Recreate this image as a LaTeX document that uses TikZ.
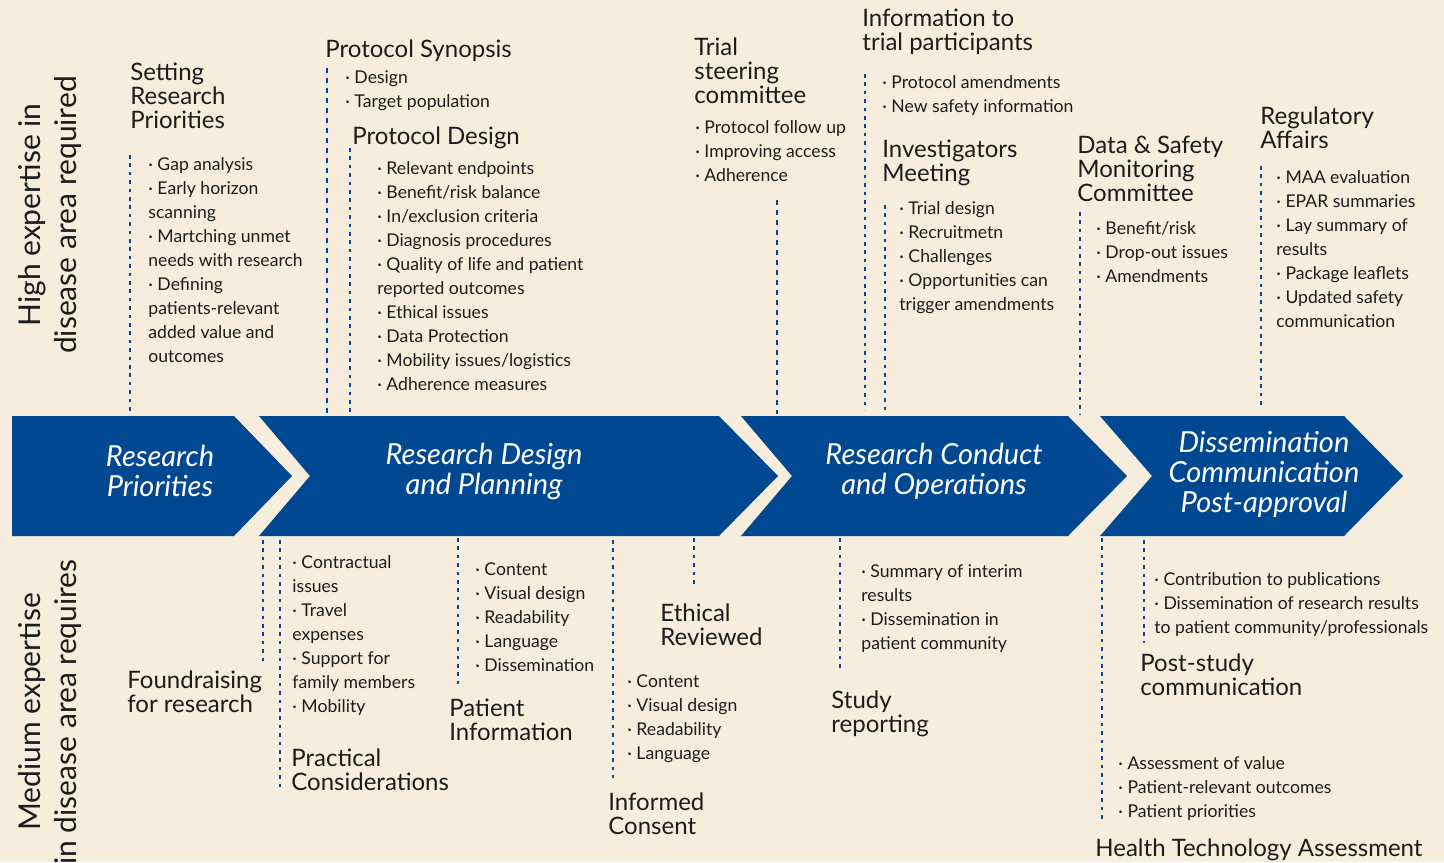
\documentclass[tikz,border=0pt]{standalone}
\usepackage{fontspec}
\setmainfont{Lato}
\usetikzlibrary{positioning}
\definecolor{paper}{RGB}{246,237,220}
\definecolor{navy}{RGB}{0,73,146}
\definecolor{ink}{RGB}{28,28,28}

\begin{document}
\begin{tikzpicture}[x=0.5pt,y=-0.5pt,
    phase/.style={fill=navy},
    phasetext/.style={text=white,inner sep=0,align=center,
                      font=\fontsize{14.5}{15}\selectfont\itshape},
    side/.style={rotate=90,inner sep=0,align=center,text=ink,
                 font=\fontsize{15}{18}\selectfont},
    head/.style={anchor=north west,inner sep=0,align=left,text=ink,
                 font=\fontsize{12}{12}\selectfont,execute at begin node=\strut},
    items/.style={anchor=north west,inner sep=0,align=left,text=ink,
                  font=\fontsize{8.8}{12}\selectfont,execute at begin node=\strut},
    lead/.style={navy,line width=1.2pt,dash pattern=on 1.8pt off 2.4pt},
    thinlead/.style={navy,line width=0.8pt,dash pattern=on 2.4pt off 2.6pt}]
    \clip (0,0) rectangle (1444,862);
    \fill[paper] (0,0) rectangle (1444,862);

    % phases
    \fill[phase] (12,416)--(234,416)--(292,476)--(234,536)--(12,536)--cycle;
    \fill[phase] (259,416)--(719,416)--(778,476)--(719,536)--(259,536)--(310,476)--cycle;
    \fill[phase] (741,416)--(1068,416)--(1127,476)--(1068,536)--(741,536)--(792,476)--cycle;
    \fill[phase] (1100,416)--(1344,416)--(1403,476)--(1344,536)--(1100,536)--(1152,476)--cycle;
    \node[phasetext] (prio) at (160,471) {Research\\Priorities};
    \node[phasetext] (design) at (484,471) {Research Design\\and Planning};
    \node[phasetext] (conduct) at (934,471) {Research Conduct\\and Operations};
    \node[phasetext] (dissem) at (1264,474) {Dissemination\\Communication\\Post-approval};

    \node[side] (high) at (50,215) {High expertise in\\disease area required};
    \node[side] (medium) at (50,712) {Medium expertise\\in disease area requires};

    % upper row
    \node[head] (srp) at (130,63) {Setting\\Research\\Priorities};
    \draw[lead] (130,155)--(130,414);
    \node[items] (srpi) at (148,157) {· Gap analysis\\· Early horizon\\scanning\\· Martching unmet\\needs with research\\· Defining\\patients-relevant\\added value and\\outcomes};

    \node[head] (syn) at (325,39) {Protocol Synopsis};
    \draw[thinlead] (327,68)--(327,414);
    \node[items] (syni) at (345,70) {· Design\\· Target population};

    \node[head] (pd) at (352,126) {Protocol Design};
    \draw[lead] (350,148)--(350,414);
    \node[items] (pdi) at (377,161) {· Relevant endpoints\\· Benefit/risk balance\\· In/exclusion criteria\\· Diagnosis procedures\\· Quality of life and patient\\reported outcomes\\· Ethical issues\\· Data Protection\\· Mobility issues/logistics\\· Adherence measures};

    \node[head] (tsc) at (694,37) {Trial\\steering\\committee};
    \node[items] (tsci) at (695,120) {· Protocol follow up\\· Improving access\\· Adherence};
    \draw[thinlead] (777,200)--(777,414);

    \node[head] (itp) at (862,9) {Information to\\trial participants};
    \draw[lead] (865,74)--(865,410);
    \node[items] (itpi) at (882,75) {· Protocol amendments\\· New safety information};

    \node[head] (im) at (882,140) {Investigators\\Meeting};
    \draw[lead] (885,205)--(885,414);
    \node[items] (imi) at (899,201) {· Trial design\\· Recruitmetn\\· Challenges\\· Opportunities can\\trigger amendments};

    \node[head] (dsmc) at (1077,136) {Data \& Safety\\Monitoring\\Committee};
    \draw[lead] (1080,212)--(1080,414);
    \node[items] (dsmci) at (1096,221) {· Benefit/risk\\· Drop-out issues\\· Amendments};

    \node[head] (ra) at (1260,106) {Regulatory\\Affairs};
    \draw[lead] (1261,166)--(1261,405);
    \node[items] (rai) at (1276,170) {· MAA evaluation\\· EPAR summaries\\· Lay summary of\\results\\· Package leaflets\\· Updated safety\\communication};

    % lower row
    \draw[lead] (263,540)--(263,661);
    \node[head] (fr) at (127,670) {Foundraising\\for research};

    \draw[lead] (280,540)--(280,791);
    \node[items] (pci) at (292,555) {· Contractual\\issues\\· Travel\\expenses\\· Support for\\family members\\· Mobility};
    \node[head] (pc) at (291,748) {Practical\\Considerations};

    \draw[lead] (458,538)--(458,686);
    \node[items] (pii) at (475,562) {· Content\\· Visual design\\· Readability\\· Language\\· Dissemination};
    \node[head] (pi) at (449,698) {Patient\\Information};

    \draw[lead] (613,540)--(613,778);
    \draw[lead] (694,538)--(694,588);
    \node[head] (er) at (660,603) {Ethical\\Reviewed};
    \node[items] (ici) at (627,674) {· Content\\· Visual design\\· Readability\\· Language};
    \node[head] (ic) at (608,792) {Informed\\Consent};

    \draw[lead] (840,538)--(840,672);
    \node[items] (sri) at (861,564) {· Summary of interim\\results\\· Dissemination in\\patient community};
    \node[head] (sr) at (831,690) {Study\\reporting};

    \draw[lead] (1102,538)--(1102,820);
    \draw[lead] (1144,540)--(1144,643);
    \node[items] (psci) at (1154,572) {· Contribution to publications\\· Dissemination of research results\\to patient community/professionals};
    \node[head] (psc) at (1140,653) {Post-study\\communication};
    \node[items] (htai) at (1118,756) {· Assessment of value\\· Patient-relevant outcomes\\· Patient priorities};
    \node[head] (hta) at (1095,838) {Health Technology Assessment};
\end{tikzpicture}
\end{document}
